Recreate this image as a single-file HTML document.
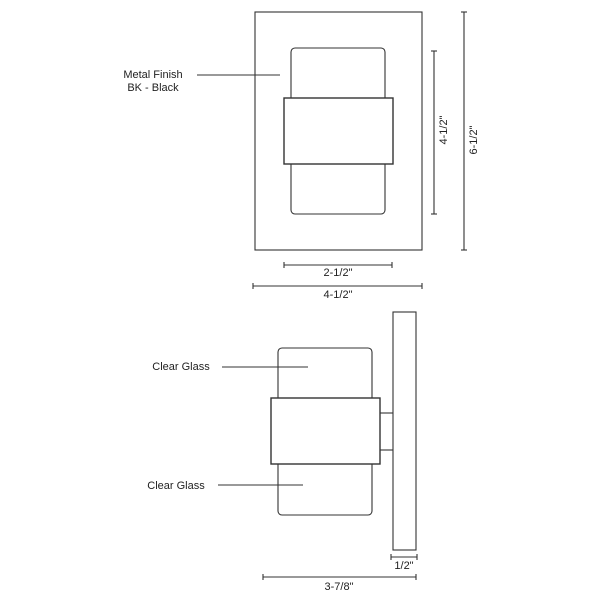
<!DOCTYPE html>
<html><head><style>
html,body{margin:0;padding:0;background:#fff;}
svg{display:block;}
text{font-family:"Liberation Sans",Arial,sans-serif;font-size:11px;fill:#222;}
</style></head><body>
<svg width="600" height="600" viewBox="0 0 600 600" xmlns="http://www.w3.org/2000/svg">
<g fill="none" stroke="#333" stroke-width="1.1">
<!-- front view -->
<rect x="255" y="12" width="167" height="238"/>
<rect x="291" y="48" width="94" height="166" rx="4"/>
<rect x="284" y="98" width="109" height="66" fill="#fff" stroke-width="1.4"/>
<!-- vertical dims -->
<line x1="434" y1="51" x2="434" y2="214"/>
<line x1="431" y1="51" x2="437" y2="51"/><line x1="431" y1="214" x2="437" y2="214"/>
<line x1="464" y1="12" x2="464" y2="250"/>
<line x1="461" y1="12" x2="467" y2="12"/><line x1="461" y1="250" x2="467" y2="250"/>
<!-- horizontal dims -->
<line x1="284" y1="265" x2="392" y2="265"/>
<line x1="284" y1="262" x2="284" y2="268"/><line x1="392" y1="262" x2="392" y2="268"/>
<line x1="253" y1="286" x2="422" y2="286"/>
<line x1="253" y1="283" x2="253" y2="289"/><line x1="422" y1="283" x2="422" y2="289"/>
<!-- leader -->
<line x1="197" y1="75" x2="280" y2="75"/>
<!-- side view -->
<rect x="393" y="312" width="23" height="238"/>
<rect x="278" y="348" width="94" height="167" rx="4"/>
<rect x="271" y="398" width="109" height="66" fill="#fff" stroke-width="1.4"/>
<line x1="380" y1="413" x2="393" y2="413"/>
<line x1="380" y1="450" x2="393" y2="450"/>
<line x1="222" y1="367" x2="308" y2="367"/>
<line x1="218" y1="485" x2="303" y2="485"/>
<line x1="391" y1="557" x2="417" y2="557"/>
<line x1="391" y1="554" x2="391" y2="560"/><line x1="417" y1="554" x2="417" y2="560"/>
<line x1="263" y1="577" x2="416" y2="577"/>
<line x1="263" y1="574" x2="263" y2="580"/><line x1="416" y1="574" x2="416" y2="580"/>
</g>
<text x="153" y="78" text-anchor="middle">Metal Finish</text>
<text x="153" y="91" text-anchor="middle">BK - Black</text>
<text x="338" y="276" text-anchor="middle">2-1/2"</text>
<text x="338" y="298" text-anchor="middle">4-1/2"</text>
<text transform="translate(447,130) rotate(-90)" text-anchor="middle">4-1/2"</text>
<text transform="translate(477,140) rotate(-90)" text-anchor="middle">6-1/2"</text>
<text x="181" y="370" text-anchor="middle">Clear Glass</text>
<text x="176" y="489" text-anchor="middle">Clear Glass</text>
<text x="404" y="569" text-anchor="middle">1/2"</text>
<text x="339" y="590" text-anchor="middle">3-7/8"</text>
</svg>
</body></html>
